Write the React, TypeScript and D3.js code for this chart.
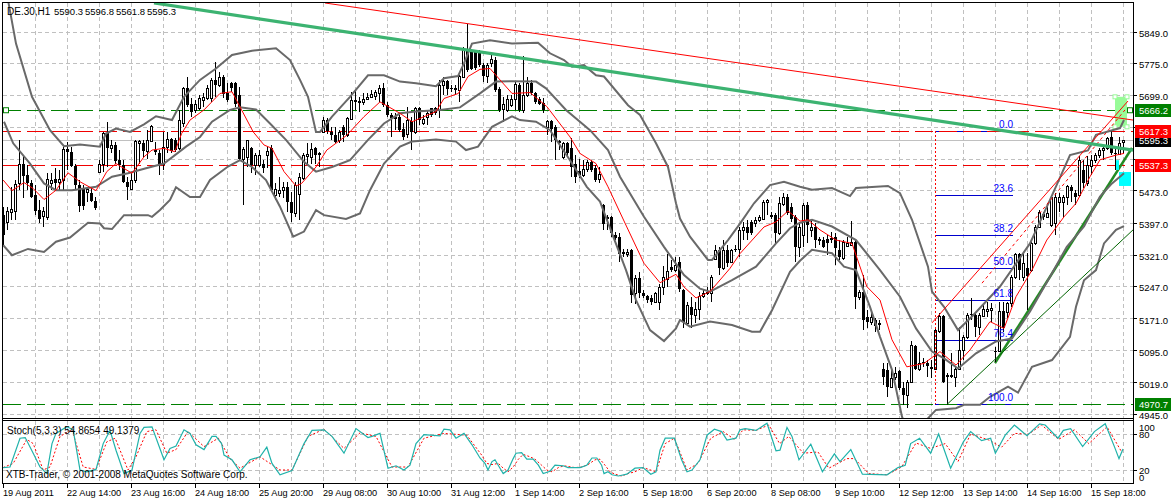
import React from "react";
import * as d3 from "d3";

const opens = [
5418,5402,5426,5428,5493,5540,5513,5493,5465,5430,5416,5414,5495,5503,5497,5501,5574,5568,5535,5489,
5481,5472,5471,5452,5521,5540,5613,5576,5584,5548,5536,5497,5481,5501,5588,5588,5570,5594,5572,5566,
5540,5580,5597,5596,5576,5635,5718,5682,5667,5671,5690,5694,5694,5738,5726,5744,5706,5730,5730,5702,
5552,5556,5576,5536,5536,5539,5560,5576,5465,5471,5477,5485,5450,5422,5469,5507,5558,5556,5576,5562,
5615,5643,5615,5607,5596,5627,5607,5645,5690,5686,5686,5692,5698,5700,5706,5718,5678,5655,5647,5651,
5623,5611,5641,5615,5671,5635,5651,5671,5671,5667,5726,5735,5720,5718,5714,5746,5809,5805,5805,5805,
5773,5747,5777,5785,5716,5668,5667,5678,5693,5726,5667,5702,5731,5708,5692,5684,5627,5641,5627,5594,
5556,5588,5576,5540,5523,5513,5526,5544,5529,5503,5442,5413,5413,5371,5367,5331,5326,5335,5233,5270,
5233,5226,5221,5213,5213,5247,5268,5296,5288,5308,5241,5162,5201,5181,5195,5226,5233,5234,5315,5335,
5292,5335,5308,5339,5339,5383,5390,5402,5400,5406,5410,5450,5418,5418,5375,5444,5461,5438,5414,5343,
5371,5442,5383,5391,5361,5359,5361,5361,5367,5336,5316,5346,5347,5354,5225,5237,5178,5166,5171,5162,
5053,5052,5012,5034,5048,5008,4992,5024,5108,5053,5071,5067,5058,5053,5143,5179,5040,5040,5036,5053,
5099,5130,5184,5182,5153,5180,5192,5194,5097,5097,5190,5188,5209,5272,5326,5272,5292,5288,5351,5391,
5420,5413,5395,5400,5450,5448,5462,5484,5471,5466,5525,5493,5534,5549,5560,5572,5576,5602,5566,5563,
5590.3];
const highs = [
5438,5438,5485,5501,5596,5560,5536,5501,5489,5454,5438,5517,5517,5529,5525,5580,5592,5580,5540,5501,
5489,5485,5485,5461,5548,5615,5639,5596,5592,5572,5548,5509,5517,5596,5596,5596,5619,5631,5590,5572,
5615,5615,5600,5600,5667,5722,5746,5694,5690,5702,5706,5726,5742,5781,5757,5749,5730,5734,5734,5722,
5580,5596,5580,5564,5572,5548,5580,5584,5493,5509,5497,5497,5473,5497,5517,5564,5588,5588,5580,5568,
5651,5647,5627,5627,5619,5631,5651,5710,5714,5698,5706,5706,5714,5714,5726,5730,5686,5659,5659,5655,
5635,5675,5651,5675,5675,5655,5667,5671,5675,5738,5746,5738,5726,5726,5749,5817,5870,5809,5809,5809,
5777,5777,5797,5793,5722,5698,5702,5702,5734,5730,5794,5746,5738,5710,5698,5694,5643,5643,5631,5596,
5592,5592,5600,5560,5552,5548,5548,5548,5536,5532,5444,5418,5416,5379,5375,5339,5339,5339,5276,5284,
5241,5229,5229,5237,5256,5297,5327,5312,5319,5319,5244,5213,5225,5213,5237,5241,5248,5276,5347,5343,
5359,5347,5339,5347,5390,5402,5406,5406,5414,5418,5454,5455,5425,5422,5461,5471,5469,5446,5418,5402,
5446,5450,5403,5399,5367,5367,5371,5379,5375,5359,5359,5367,5403,5358,5241,5276,5194,5194,5174,5170,
5067,5067,5056,5059,5052,5024,5028,5119,5111,5095,5079,5075,5075,5150,5186,5182,5044,5091,5059,5154,
5134,5186,5221,5186,5186,5205,5213,5209,5107,5213,5213,5213,5276,5328,5329,5328,5328,5355,5395,5430,
5426,5446,5466,5470,5470,5466,5489,5489,5478,5557,5549,5557,5560,5564,5576,5580,5604,5616,5576,5604,
5596.8];
const lows = [
5347,5383,5406,5406,5477,5458,5477,5458,5418,5400,5390,5406,5477,5477,5477,5477,5525,5532,5477,5426,
5430,5450,5450,5430,5517,5521,5532,5564,5540,5525,5493,5454,5477,5493,5540,5556,5552,5592,5560,5513,
5525,5564,5564,5568,5572,5627,5675,5651,5659,5667,5675,5690,5686,5698,5722,5694,5686,5710,5675,5548,
5442,5532,5517,5513,5532,5517,5530,5473,5454,5461,5458,5426,5402,5414,5406,5501,5540,5540,5540,5532,
5612,5611,5596,5588,5588,5592,5603,5643,5667,5663,5678,5690,5694,5690,5686,5675,5651,5603,5619,5615,
5596,5600,5572,5611,5631,5631,5631,5651,5655,5647,5702,5702,5710,5702,5686,5742,5757,5761,5761,5769,
5734,5730,5769,5710,5663,5639,5663,5675,5667,5663,5659,5698,5702,5682,5678,5659,5607,5592,5548,5572,
5552,5556,5509,5493,5505,5509,5521,5521,5497,5493,5383,5383,5367,5359,5308,5319,5319,5209,5207,5221,
5223,5209,5205,5211,5193,5229,5248,5284,5284,5237,5150,5158,5150,5162,5170,5221,5229,5213,5312,5276,
5288,5296,5304,5331,5319,5359,5359,5371,5390,5402,5406,5418,5410,5351,5371,5439,5418,5402,5308,5319,
5343,5351,5367,5340,5347,5340,5324,5351,5300,5312,5312,5343,5347,5197,5217,5146,5150,5158,5142,5146,
5016,4988,5008,5028,5004,4969,4961,5020,5052,5048,5059,5036,5032,5052,5138,5020,4969,5032,5012,5052,
5075,5126,5170,5130,5134,5178,5178,5166,5071,5095,5142,5174,5201,5268,5265,5261,5194,5284,5347,5387,
5407,5411,5391,5371,5426,5414,5442,5450,5442,5462,5482,5486,5513,5541,5553,5549,5572,5560,5525,5560,
5561.8];
const closes = [
5371,5428,5432,5491,5540,5511,5493,5461,5428,5410,5428,5503,5501,5495,5503,5574,5568,5535,5489,5439,
5439,5481,5452,5434,5540,5613,5576,5585,5547,5536,5497,5485,5501,5593,5593,5570,5596,5630,5568,5540,
5580,5597,5570,5572,5643,5718,5678,5663,5682,5694,5698,5718,5738,5726,5744,5705,5690,5718,5682,5552,
5574,5596,5536,5560,5560,5529,5570,5477,5479,5477,5485,5450,5422,5489,5509,5560,5562,5574,5560,5566,
5643,5617,5607,5592,5615,5607,5647,5690,5686,5689,5693,5698,5704,5710,5718,5678,5655,5647,5651,5619,
5603,5643,5615,5671,5643,5645,5659,5655,5659,5726,5735,5716,5716,5714,5747,5809,5761,5763,5765,5773,
5747,5773,5787,5714,5667,5681,5692,5693,5728,5667,5702,5730,5708,5686,5682,5667,5641,5623,5596,5588,
5589,5564,5532,5509,5513,5526,5544,5525,5501,5515,5398,5409,5375,5363,5327,5326,5331,5229,5270,5233,
5226,5217,5213,5234,5248,5272,5286,5288,5300,5242,5166,5205,5181,5195,5226,5233,5237,5271,5335,5292,
5335,5304,5335,5335,5383,5390,5375,5375,5406,5414,5450,5454,5414,5375,5446,5461,5422,5410,5343,5390,
5442,5395,5391,5359,5356,5343,5351,5363,5340,5318,5355,5351,5354,5225,5237,5170,5166,5178,5156,5158,
5034,5012,5032,5044,5008,4992,5024,5111,5053,5067,5067,5061,5053,5145,5179,5024,5036,5036,5053,5100,
5130,5182,5182,5153,5182,5195,5195,5198,5095,5190,5150,5209,5272,5326,5288,5304,5274,5351,5391,5426,
5413,5422,5462,5462,5462,5462,5486,5474,5462,5549,5493,5537,5549,5560,5572,5576,5600,5566,5563,5588,
5595.3];

const upperBand: [number, number][] = [[0,6000],[2,5927],[4,5824],[8,5698],[12.5,5619],[16,5581],[20,5585],[25,5580],[26.5,5611],[29,5623],[32.5,5615],[36,5633],[39,5652],[43,5643],[46,5698],[50,5738],[54,5765],[58,5797],[63,5807],[69,5813],[72.5,5785],[75,5738],[77,5698],[79,5615],[80,5615],[83,5651],[87.5,5698],[92,5749],[96,5749],[100,5734],[104,5730],[109,5723],[111,5742],[114.5,5747],[116,5777],[118,5824],[122.5,5832],[128,5824],[134.5,5826],[137.5,5801],[141,5785],[143,5769],[146,5773],[149,5749],[151,5746],[157,5678],[160,5655],[164,5588],[167,5532],[169,5446],[170,5410],[172.5,5367],[177,5312],[178,5312],[182,5359],[185,5398],[188.5,5446],[192.5,5489],[196,5497],[200,5485],[203,5478],[208,5482],[212.5,5463],[214,5482],[222,5487],[225,5470],[228,5407],[232,5296],[233,5237],[236,5201],[239.5,5146],[243,5178],[250,5249],[257.5,5351],[262.5,5454],[267.5,5560],[272,5571],[274,5608],[277,5616],[280,5624],[281,5643]];
const middleBand: [number, number][] = [[1,5639],[3.3,5588],[7.5,5540],[11,5493],[14,5477],[18,5477],[24,5485],[28,5509],[32,5517],[36.5,5529],[41,5540],[46.5,5580],[50,5603],[53,5639],[57.5,5667],[60,5673],[64,5668],[67.5,5635],[71.5,5596],[76,5544],[79,5521],[83,5532],[87.5,5548],[92,5596],[96,5635],[100,5659],[104,5663],[110,5667],[115,5673],[120,5706],[124,5734],[128,5735],[134,5734],[136.5,5718],[141.5,5667],[147.5,5619],[152,5572],[155,5509],[161,5414],[166,5343],[171,5276],[175,5244],[177.5,5237],[183,5264],[189,5296],[194,5351],[197.5,5387],[200,5400],[203,5407],[208,5391],[214,5359],[220,5288],[225,5225],[229,5150],[233,5095],[236,5079],[239.5,5055],[244,5091],[249,5119],[253,5126],[257.5,5190],[262.5,5272],[266.7,5343],[271,5391],[275,5462],[278,5493],[281,5517]];
const lowerBand: [number, number][] = [[0.8,5347],[3,5323],[7,5338],[11,5331],[14,5355],[17.5,5365],[22,5400],[25,5398],[26,5387],[28,5385],[31,5418],[37,5418],[38,5414],[40,5430],[42.5,5454],[44,5484],[47.5,5461],[50,5461],[52.5,5501],[57,5533],[60,5548],[63,5532],[66.5,5501],[70,5438],[73.3,5367],[76,5379],[79,5430],[81,5418],[86.5,5409],[90,5422],[92.5,5477],[96,5540],[100,5580],[103,5592],[109,5597],[114,5592],[116.5,5572],[119.5,5580],[123,5627],[128,5652],[130,5643],[134,5639],[137.5,5619],[142.5,5548],[146.7,5485],[150,5450],[153,5375],[156.5,5288],[159,5217],[162.5,5146],[166,5120],[169,5150],[170,5170],[172.5,5154],[177.5,5166],[183,5158],[188,5142],[190,5142],[193,5193],[197.5,5284],[200,5310],[203,5336],[208,5328],[211,5296],[214,5288],[217.5,5201],[220,5130],[223,5052],[225.5,4941],[228,4880],[230,4880],[232,4937],[234,4957],[239,4961],[241,4969],[245,4969],[247.5,4988],[252,5012],[254.5,4998],[258,5059],[263,5075],[267.5,5130],[269,5201],[271,5264],[274,5288],[276,5351],[279,5383],[281,5392]];
const movingAverage: [number, number][] = [[0.8,5501],[3,5476],[6,5495],[8.3,5481],[11,5455],[14,5477],[17,5518],[20,5497],[24,5476],[26.7,5521],[29,5540],[33,5517],[36,5556],[38,5572],[41,5576],[43.7,5568],[45.4,5611],[47.5,5643],[51,5667],[55,5706],[58,5710],[60.4,5667],[63.3,5615],[66,5584],[68,5576],[71,5521],[74,5487],[75.4,5493],[79,5532],[81.7,5572],[86.7,5607],[91,5651],[95,5686],[100,5659],[103,5639],[106,5651],[109,5663],[111,5694],[114.6,5706],[117,5746],[120,5763],[122.5,5765],[125,5738],[128,5706],[132.5,5708],[136.7,5675],[142.5,5603],[145,5564],[149,5540],[152,5485],[156.7,5390],[161,5304],[165,5258],[169,5278],[171,5248],[174,5222],[177.5,5237],[182.5,5292],[185,5327],[191,5390],[194,5402],[197,5428],[200,5404],[202,5407],[205,5383],[209,5359],[213,5351],[216.7,5249],[220,5217],[223,5123],[226.7,5059],[231,5067],[235,5095],[239,5063],[242.5,5099],[247.5,5166],[251,5150],[254,5225],[258,5288],[261.7,5359],[266,5414],[269,5446],[272.5,5509],[275,5549],[279,5560],[281,5564]];

const stochMain: [number, number][] = [[0.8,24],[2.5,25],[5,73],[6.3,74],[8.3,48],[10,25],[11.7,14],[13,64],[14,81],[16.7,92],[18.3,87],[20,20],[21.7,17],[24,21],[25.8,64],[27.5,86],[29,53],[31,14],[33,20],[35,81],[36,91],[38,92],[41,37],[42.5,56],[44,60],[46,87],[47.5,81],[49,62],[51,54],[53,76],[54,76],[55.4,64],[56,45],[58,37],[60,17],[62.5,37],[65,42],[66.7,58],[68,31],[70,12],[73,19],[76,64],[78,86],[81,87],[83,76],[86,48],[89,89],[92,74],[93,76],[95,81],[97,23],[99,27],[101,20],[102.5,28],[104,64],[106,79],[110,77],[111,88],[112.5,87],[114,73],[116,81],[118,62],[120,40],[121.25,31],[122,20],[123,34],[123.75,37],[125,23],[125.8,14],[127,20],[128.3,39],[129,48],[130.4,49],[131.7,38],[133.3,38],[134.6,28],[135.8,14],[137.5,18],[138.75,28],[140.8,27],[142,24],[145,24],[146.7,28],[148,40],[149.2,40],[150.4,28],[151,14],[152,17],[153,12],[154.6,10],[156.7,13],[158.75,23],[160.75,24],[162.7,13],[164,17],[165,53],[166.3,73],[168.6,73],[170.4,37],[171.75,17],[173,20],[175,37],[176.75,78],[178.6,88],[180.4,84],[181.75,70],[184,73],[185,87],[186.3,89],[189,86],[191.75,98],[194,52],[195,53],[196.75,91],[198,76],[199.75,37],[202.7,63],[205.6,17],[208.6,47],[210,34],[212.7,54],[215.6,13],[221.75,12],[224.5,24],[226.3,28],[227.66,64],[229.9,73],[232.66,48],[234.66,80],[237.66,23],[240.84,67],[242.66,84],[245.4,69],[247.66,73],[248.84,48],[251.3,78],[253.6,95],[256.75,77],[259.9,97],[261.3,95],[264.5,73],[265.84,86],[267.66,89],[270.66,59],[273.6,84],[276.3,97],[278.6,59],[279.75,39],[280.75,54.87]];
const stochSignal: [number, number][] = [[0.8,24],[3.3,31],[6.7,71],[8.3,64],[10.8,20],[12.5,25],[15,76],[18,87],[20.8,25],[24,21],[26.7,67],[28.8,73],[32,20],[34,42],[36.7,84],[39,87],[41.7,48],[44,54],[47,84],[51,59],[54.6,73],[57.5,39],[60,23],[65,42],[70,20],[73,20],[77,76],[81,88],[86,56],[90,82],[94,76],[98,25],[102,25],[106,73],[111,81],[116.7,78],[120.4,45],[121.7,31],[123,29],[124.6,31],[125.8,23],[127,17],[128.3,25],[129.6,38],[130.8,46],[132.5,42],[133.75,38],[135.4,28],[136.7,20],[138,17],[139.6,24],[141,27],[143.75,24],[145.4,25],[147,29],[148.75,37],[150,38],[151.25,28],[152.5,17],[153.75,13],[155.4,10],[157,14],[158.75,17],[160.8,24],[164,17],[166.3,64],[168.6,73],[171.75,20],[174.5,31],[177.7,73],[180.8,84],[183.6,71],[185.84,87],[189,86],[192.2,95],[194.9,64],[197.2,76],[200.84,48],[204.5,50],[207.2,23],[211.75,39],[213.6,39],[217.2,14],[221.75,12],[225.4,25],[229,65],[232.66,56],[236.3,64],[239.5,34],[242.66,80],[247.2,70],[250.4,58],[253.6,81],[257.2,80],[260.4,95],[264.66,71],[268.6,87],[272.2,64],[276.75,92],[280.5,49.14]];

const priceTicks = [5849, 5775, 5699, 5623, 5547, 5473, 5397, 5321, 5247, 5171, 5095, 5019, 4945];
const stochTicks = [100, 80, 20, 0];
const timeLabels = ["19 Aug 2011","22 Aug 14:00","23 Aug 16:00","24 Aug 18:00","25 Aug 20:00","29 Aug 08:00","30 Aug 10:00","31 Aug 12:00","1 Sep 14:00","2 Sep 16:00","5 Sep 18:00","6 Sep 20:00","8 Sep 08:00","9 Sep 10:00","12 Sep 12:00","13 Sep 14:00","14 Sep 16:00","15 Sep 18:00"];
const headerSymbol = "DE.30,H1";
const headerValues = ["5590.3", "5596.8", "5561.8", "5595.3"];
const fibLevels = [0, 23.6, 38.2, 50, 61.8, 76.4, 100];
const fibHigh = 5617.3;
const fibLow = 4970.7;
const levelTags: [number, string, string][] = [[5666.2,"#008000","#fff"],[5595.3,"#000","#fff"],[5617.3,"#ff0000","#fff"],[5537.3,"#ff0000","#fff"],[4970.7,"#008000","#fff"]];
const dashedLevels: [number, string][] = [[5666.2,"#008000"],[5617.3,"#f00000"],[5537.3,"#f00000"],[4970.7,"#008000"]];
const underTrend: [[number,number],[number,number],string,number][] = [
  [[248.75,5068],[283,5577],"#228b22",2.5],
];
const trendLines: [[number,number],[number,number],string,number,string?][] = [
  [[81.25,5920],[283.25,5643],"#ff0000",1],
  [[233,5163],[282,5688],"#ff0000",1],
  [[245.5,5257],[281.25,5667],"#ff0000",1,"3,3"],
  [[236.75,4970],[283.25,5383],"#006400",1],
  [[38.5,5920],[283.25,5572],"#3cb371",3.2],
];
const zones: [[number,number],[number,number],string][] = [
  [[278.75,281.75],[5698,5627],"#98fb98"],
  [[279,279.75],[5548,5525],"#00ffff"],
  [[279.75,282.75],[5520,5487],"#00ffff"],
];

const W = 1171, H = 500;
const font = "'Liberation Sans', Arial, sans-serif";

export default function App() {
  const x = d3.scaleLinear().domain([0, 284]).range([0, 1136]);
  const y = d3.scaleLinear().domain([5849, 4945]).range([33, 415]);
  const ys = d3.scaleLinear().domain([0, 100]).range([482, 422]);
  const pLine = d3.line<[number, number]>().x(d => x(d[0])).y(d => y(d[1]));
  const sLine = d3.line<[number, number]>().x(d => x(d[0])).y(d => ys(d[1]));
  const gridX = d3.range(0, 35).map(k => 35 + 32 * k).filter(v => v < 1133);
  const timeX = timeLabels.map((_, k) => x((3 + 64 * k) / 4));
  return (
    <svg width={W} height={H} style={{ position: "absolute", left: 0, top: 0, background: "#fff" }}>
      <defs>
        <clipPath id="main"><rect x={3} y={3} width={1130} height={415} /></clipPath>
        <clipPath id="st"><rect x={3} y={421} width={1130} height={62} /></clipPath>
      </defs>
      <g stroke="#c0c0c0" strokeDasharray="4,3" shapeRendering="crispEdges">
        {gridX.map(g => <line key={"a" + g} x1={g + .5} x2={g + .5} y1={3} y2={418} />)}
        {gridX.map(g => <line key={"b" + g} x1={g + .5} x2={g + .5} y1={421} y2={483} />)}
        {priceTicks.map(t => <line key={t} x1={3} x2={1133} y1={Math.floor(y(t)) - .5} y2={Math.floor(y(t)) - .5} />)}
        {[80, 20].map(t => <line key={t} x1={3} x2={1133} y1={Math.floor(ys(t)) + .5} y2={Math.floor(ys(t)) + .5} />)}
      </g>
      <g clipPath="url(#main)">
        <line x1={3} x2={1133} y1={Math.round(y(5595.3)) + .5} y2={Math.round(y(5595.3)) + .5} stroke="#c0c0c0" shapeRendering="crispEdges" />
        {fibLevels.map(l => {
          const p = fibHigh - (fibHigh - fibLow) * l / 100;
          return <line key={l} x1={x(233.75)} x2={x(253.25)} y1={Math.round(y(p)) + .5} y2={Math.round(y(p)) + .5} stroke="#0000cd" shapeRendering="crispEdges" />;
        })}
        {dashedLevels.map(([p, c]) => <line key={p} x1={3} x2={1133} y1={Math.round(y(p)) + .5} y2={Math.round(y(p)) + .5} stroke={c} strokeDasharray="18,6" shapeRendering="crispEdges" />)}
        {underTrend.map(([a, b, c, w], k) => <line key={k} x1={x(a[0])} y1={y(a[1])} x2={x(b[0])} y2={y(b[1])} stroke={c} strokeWidth={w} />)}
        {opens.map((o, i) => {
          const c = closes[i];
          const cx = Math.round(x(i + .75));
          const top = Math.round(y(Math.max(o, c)));
          const bot = Math.round(y(Math.min(o, c)));
          return <g key={i} shapeRendering="crispEdges">
            <rect x={cx} y={y(highs[i])} width={1} height={y(lows[i]) - y(highs[i])} fill="#000" />
            {c > o
              ? <rect x={cx - .5} y={top + .5} width={2} height={Math.max(bot - top, 1)} fill="#fff" stroke="#000" />
              : <rect x={cx - 1} y={top} width={3} height={Math.max(bot - top, 1)} fill="#000" />}
          </g>;
        })}
        {zones.map(([b, p, c], k) => <rect key={k} x={x(b[0])} y={y(p[0])} width={x(b[1]) - x(b[0])} height={y(p[1]) - y(p[0])} fill={c} />)}
        {zones.slice(0, 1).flatMap(([b, p]) => b.flatMap(bb => p.map(pp =>
          <rect key={bb + "-" + pp} x={x(bb) - 2} y={y(pp) - 2} width={4} height={4} fill="#fff" stroke="#98fb98" />)))}
        {[upperBand, middleBand, lowerBand].map((b, k) => <path key={k} d={pLine(b) || ""} fill="none" stroke="#696969" strokeWidth={2} />)}
        <path d={pLine(movingAverage) || ""} fill="none" stroke="#ff0000" strokeWidth={1} />
        <line x1={x(233.75) + .5} x2={x(233.75) + .5} y1={y(fibHigh)} y2={y(fibLow)} stroke="#ff0000" strokeDasharray="2,2" shapeRendering="crispEdges" />
        {trendLines.map(([a, b, c, w, d], k) => <line key={k} x1={x(a[0])} y1={y(a[1])} x2={x(b[0])} y2={y(b[1])} stroke={c} strokeWidth={w} strokeDasharray={d} />)}
        <rect x={3.5} y={y(5666.2) - 2.5} width={5} height={5} fill="#fff" stroke="#008000" />
        <rect x={1127.5} y={y(5666.2) - 2.5} width={5} height={5} fill="#fff" stroke="#008000" />
        {fibLevels.map(l => {
          const p = fibHigh - (fibHigh - fibLow) * l / 100;
          return <text key={l} x={x(253.25)} y={y(p) - 3} textAnchor="end" fill="#0000ff" fontFamily={font} fontSize={10}>{l.toFixed(1)}</text>;
        })}
        <text x={7} y={15} fontFamily={font} fontSize={10} fill="#000">{headerSymbol}</text>
        {headerValues.map((v, k) => <text key={k} x={54 + 31 * k} y={15} fontFamily={font} fontSize={9.5} fill="#000">{v}</text>)}
      </g>
      <g clipPath="url(#st)">
        <path d={sLine(stochSignal) || ""} fill="none" stroke="#ff0000" strokeDasharray="2,2" />
        <path d={sLine(stochMain) || ""} fill="none" stroke="#20b2aa" strokeWidth={1.2} />
        <text x={7} y={434} fontFamily={font} fontSize={10} fill="#000">Stoch(5,3,3) 54.8654 49.1379</text>
        <text x={6} y={478} fontFamily={font} fontSize={10} fill="#000">XTB-Trader, © 2001-2008 MetaQuotes Software Corp.</text>
      </g>
      <g fill="#000" shapeRendering="crispEdges">
        <rect x={2} y={2} width={1131.5} height={1} />
        <rect x={2} y={2} width={1} height={482} />
        <rect x={2} y={418} width={1132} height={1} />
        <rect x={2} y={420} width={1132} height={1} />
        <rect x={2} y={483} width={1132} height={1} />
        <rect x={1133} y={2} width={1} height={482} />
        {priceTicks.map(t => <rect key={t} x={1134} y={Math.floor(y(t)) - 1} width={3} height={1} />)}
        {[80, 20].map(t => <rect key={t} x={1134} y={Math.floor(ys(t))} width={3} height={1} />)}
        {timeX.map((t, k) => <rect key={k} x={t} y={484} width={1} height={4} />)}
      </g>
      <g fontFamily={font} fontSize={9.5} fill="#000">
        {priceTicks.map(t => <text key={t} x={1139} y={y(t) + 4}>{t.toFixed(1)}</text>)}
        {stochTicks.map(t => <text key={t} x={1139} y={Math.min(Math.max(ys(t), 427), 477) + 4}>{t}</text>)}
        {timeLabels.map((t, k) => <text key={t} x={timeX[k]} y={496} fontSize={9.2}>{t}</text>)}
        {levelTags.map(([p, bg, fg]) => <g key={p}>
          <rect x={1135} y={Math.round(y(p)) - 6} width={36} height={13} fill={bg} />
          <text x={1139} y={Math.round(y(p)) + 4} fill={fg}>{p.toFixed(1)}</text>
        </g>)}
      </g>
    </svg>
  );
}
